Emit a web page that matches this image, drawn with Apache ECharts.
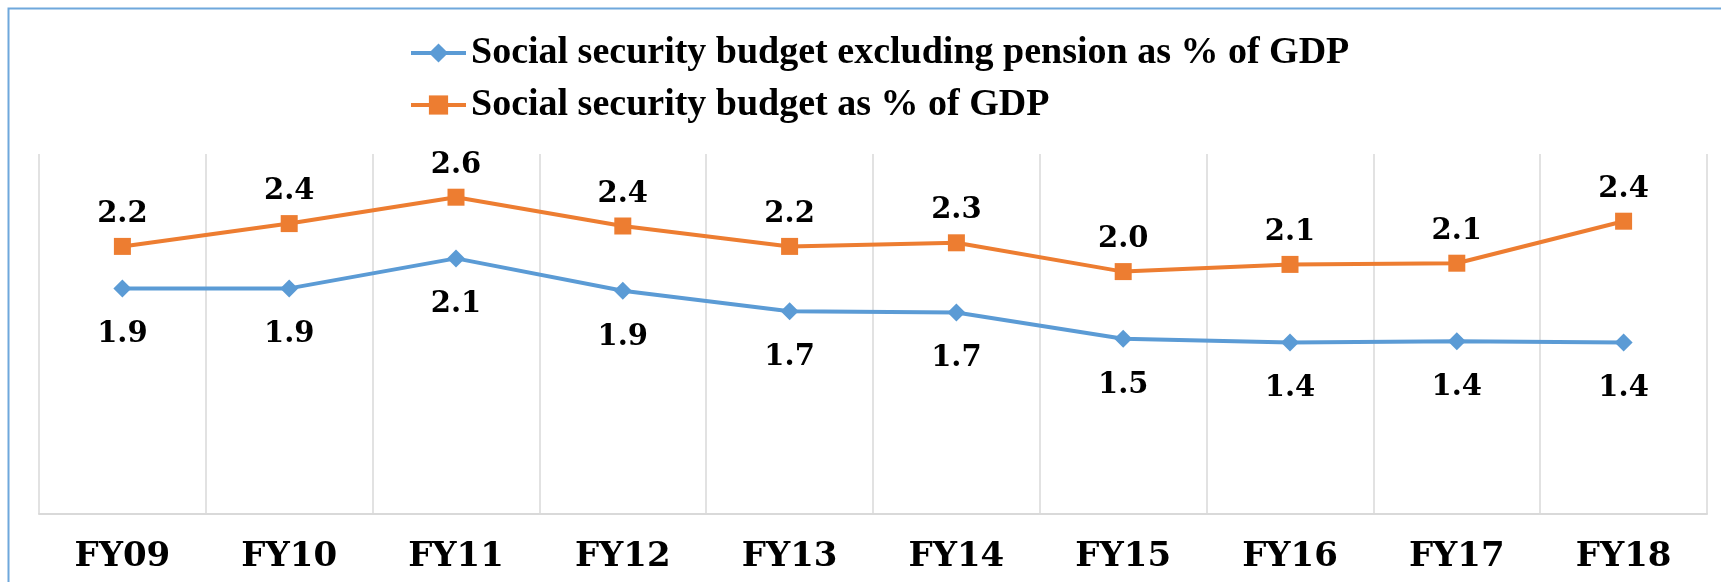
<!DOCTYPE html>
<html>
<head>
<meta charset="utf-8">
<style>
  html, body { margin: 0; padding: 0; background: #ffffff; }
  #chart { width: 1721px; height: 582px; }
</style>
<script src="https://cdn.jsdelivr.net/npm/echarts@6/dist/echarts.min.js"></script>
</head>
<body>
<div id="chart"></div>
<script>
// Fiscal years on the category axis
const categories = ['FY09', 'FY10', 'FY11', 'FY12', 'FY13', 'FY14', 'FY15', 'FY16', 'FY17', 'FY18'];

// Social security spending, percent of GDP
const budgetExPension = [1.88, 1.88, 2.13, 1.86, 1.69, 1.68, 1.46, 1.43, 1.44, 1.43];
const budgetTotal     = [2.23, 2.42, 2.64, 2.40, 2.23, 2.26, 2.02, 2.08, 2.09, 2.44];

const seriesNames = [
  'Social security budget excluding pension as % of GDP',
  'Social security budget as % of GDP'
];

const BLUE = '#5B9BD5';
const ORANGE = '#ED7D31';
const labelFont = 'DejaVu Serif';

const chart = echarts.init(document.getElementById('chart'));

chart.setOption({
  animation: false,
  backgroundColor: '#ffffff',
  graphic: [{
    type: 'rect',
    silent: true,
    shape: { x: 8.5, y: 8.5, width: 1800, height: 700 },
    style: { fill: 'none', stroke: '#6FA8DC', lineWidth: 2 }
  }],
  legend: {
    orient: 'vertical',
    left: 409,
    top: 34,
    padding: 0,
    itemWidth: 55,
    itemHeight: 24,
    itemGap: 14,
    lineStyle: { width: 4 },
    textStyle: {
      fontFamily: 'Liberation Serif',
      fontWeight: 'bold',
      fontSize: 38,
      color: '#000000'
    },
    data: seriesNames.map(name => ({ name, lineStyle: { width: 4 } }))
  },
  grid: { left: 39, right: 14, top: 154, bottom: 68 },
  xAxis: {
    type: 'category',
    data: categories,
    boundaryGap: true,
    axisLine: { show: true, lineStyle: { color: '#D9D9D9', width: 2 } },
    axisTick: { show: false },
    splitLine: { show: true, lineStyle: { color: '#D9D9D9', width: 1.5 } },
    axisLabel: {
      margin: 26,
      fontFamily: labelFont,
      fontWeight: 'bold',
      fontSize: 34,
      color: '#000000'
    }
  },
  yAxis: {
    type: 'value',
    min: 0,
    max: 3,
    show: false,
    splitLine: { show: false }
  },
  series: [
    {
      name: seriesNames[0],
      type: 'line',
      data: budgetExPension,
      symbol: 'diamond',
      symbolSize: 18,
      itemStyle: { color: BLUE },
      lineStyle: { color: BLUE, width: 4 },
      label: {
        show: true,
        position: 'bottom',
        distance: 23,
        formatter: p => p.value.toFixed(1),
        fontFamily: labelFont,
        fontWeight: 'bold',
        fontSize: 29,
        color: '#000000'
      }
    },
    {
      name: seriesNames[1],
      type: 'line',
      data: budgetTotal,
      symbol: 'rect',
      symbolSize: 17,
      itemStyle: { color: ORANGE },
      lineStyle: { color: ORANGE, width: 4 },
      label: {
        show: true,
        position: 'top',
        distance: 9,
        formatter: p => p.value.toFixed(1),
        fontFamily: labelFont,
        fontWeight: 'bold',
        fontSize: 29,
        color: '#000000'
      }
    }
  ]
});
</script>
</body>
</html>
